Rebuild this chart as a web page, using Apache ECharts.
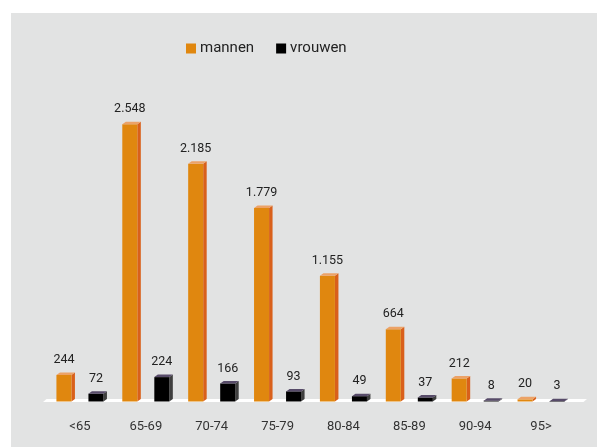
<!DOCTYPE html>
<html>
<head>
<meta charset="utf-8">
<script src="https://cdn.jsdelivr.net/npm/echarts@6/dist/echarts.min.js"></script>
<style>
  html, body { margin: 0; padding: 0; background: #ffffff; }
  #chart { width: 597px; height: 447px; }
</style>
</head>
<body>
<div id="chart"></div>
<script>
// Age groups and counts per gender
const categories = ['<65', '65-69', '70-74', '75-79', '80-84', '85-89', '90-94', '95>'];
const mannen = [244, 2548, 2185, 1779, 1155, 664, 212, 20];
const vrouwen = [72, 224, 166, 93, 49, 37, 8, 3];

// Dutch thousands separator: 2548 -> "2.548"
function fmt(v) {
  return String(v).replace(/\B(?=(\d{3})+(?!\d))/g, '.');
}

const FONT = 'Roboto, "Open Sans", sans-serif';

// Draws a pseudo-3D bar (front, side, top) plus its value label
function makeRender(side, colors) {
  return function (params, api) {
    const v = api.value(1);
    const base = api.coord([api.value(0), 0]);
    const top = api.coord([api.value(0), v]);
    const band = api.size([1, 0])[0];
    const w = band * 0.228;
    const cx = base[0] + side * band * 0.243;
    const dx = 3.5, dy = 2.5;
    const x0 = cx - w / 2, x1 = cx + w / 2;
    const yb = base[1], yt = top[1];
    return {
      type: 'group',
      children: [
        {
          type: 'polygon',
          shape: { points: [[x1, yt], [x1 + dx, yt - dy], [x1 + dx, yb - dy], [x1, yb]] },
          style: { fill: colors.side }
        },
        {
          type: 'rect',
          shape: { x: x0, y: yt, width: w, height: Math.max(yb - yt, 0.5) },
          style: { fill: colors.front }
        },
        {
          type: 'polygon',
          shape: { points: [[x0, yt], [x1, yt], [x1 + dx, yt - dy], [x0 + dx, yt - dy]] },
          style: { fill: colors.top }
        },
        {
          type: 'text',
          style: {
            text: fmt(v),
            x: cx,
            y: yt - 15,
            align: 'center',
            verticalAlign: 'middle',
            font: '12.5px ' + FONT,
            fill: '#222222'
          }
        }
      ]
    };
  };
}

const chart = echarts.init(document.getElementById('chart'), null, { renderer: 'canvas' });

chart.setOption({
  animation: false,
  backgroundColor: '#ffffff',
  graphic: [
    {
      type: 'rect',
      z: -10,
      shape: { x: 11, y: 13, width: 586, height: 434 },
      style: { fill: '#e2e3e3' }
    },
    {
      type: 'polygon',
      z: -5,
      shape: { points: [[43, 402], [46.5, 399], [587, 399], [583.5, 402]] },
      style: { fill: '#ffffff' }
    }
  ],
  legend: {
    top: 36,
    left: 181,
    itemWidth: 10,
    itemHeight: 10,
    itemGap: 22,
    icon: 'rect',
    textStyle: { fontFamily: FONT, fontSize: 15, color: '#222222', padding: [0, 0, 0, -1] },
    data: ['mannen', 'vrouwen']
  },
  grid: { left: 47, right: 23, top: 75, bottom: 45.5 },
  xAxis: {
    type: 'category',
    data: categories,
    axisLine: { show: false },
    axisTick: { show: false },
    axisLabel: { margin: 19, fontFamily: FONT, fontSize: 13, color: '#333333' }
  },
  yAxis: {
    type: 'value',
    min: 0,
    max: 3000,
    show: false
  },
  series: [
    {
      name: 'mannen',
      type: 'custom',
      itemStyle: { color: '#e0870f' },
      renderItem: makeRender(-1, { front: '#e0870f', side: '#d9601b', top: '#eca267' }),
      encode: { x: 0, y: 1 },
      data: mannen.map((v, i) => [i, v])
    },
    {
      name: 'vrouwen',
      type: 'custom',
      itemStyle: { color: '#000000' },
      renderItem: makeRender(1, { front: '#000000', side: '#3f3f3f', top: '#574b69' }),
      encode: { x: 0, y: 1 },
      data: vrouwen.map((v, i) => [i, v])
    }
  ]
});
</script>
</body>
</html>
